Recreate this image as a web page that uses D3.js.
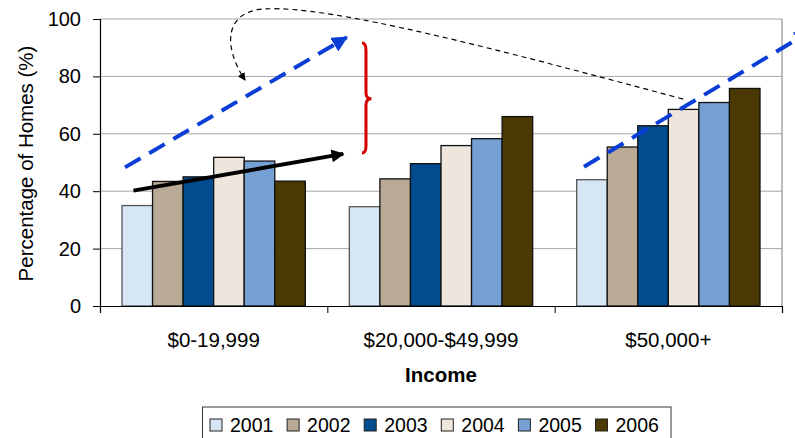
<!DOCTYPE html>
<html>
<head>
<meta charset="utf-8">
<script src="https://cdn.jsdelivr.net/npm/d3@7"></script>
<style>
  body { margin: 0; background: #fff; }
  svg { font-family: "Liberation Sans", Arial, sans-serif; }
</style>
</head>
<body>
<div id="chart"></div>
<script>
'use strict';

// data
var categories = ["$0-19,999", "$20,000-$49,999", "$50,000+"];
var years = ["2001", "2002", "2003", "2004", "2005", "2006"];
var values = {
    "2001": [35.0, 34.6, 44.0],
    "2002": [43.4, 44.3, 55.4],
    "2003": [45.0, 49.6, 62.8],
    "2004": [51.8, 55.9, 68.5],
    "2005": [50.5, 58.3, 70.9],
    "2006": [43.5, 66.0, 75.8]
};
var colors = ["#d6e6f5", "#b8aa94", "#014b8e", "#eee6dc", "#74a0d4", "#4a3902"];
var yTicks = [0, 20, 40, 60, 80, 100];

// annotations in [category units, percent]
var blueArrow1 = [[0.110, 48.3], [1.085, 93.6]];
var blueArrow2 = [[2.129, 48.5], [3.12, 95.5]];
var blackArrow = [[0.147, 40.2], [1.070, 53.0]];
var dashedCurve = [[2.565, 72.1], [1.76, 89.2], [1.012, 104.9], [0.726, 103.5],
                   [0.55, 102.8], [0.537, 90.9], [0.638, 78.7]];
var brace = { body: 1.170, tip: 1.1525, cusp: 1.194, top: 91.6, mid: 72.2, bottom: 53.3 };

var width = 795, height = 438;
var margin = { left: 100, right: 13, top: 19, bottom: 132 };
var plotW = width - margin.left - margin.right;
var plotH = height - margin.top - margin.bottom;

var svg = d3.select("#chart").append("svg")
    .attr("width", width)
    .attr("height", height);

var x0 = d3.scaleBand().domain(categories).range([margin.left, margin.left + plotW]);
var x1 = d3.scaleBand().domain(years).range([0, x0.bandwidth()]).paddingOuter(0.72);
var y = d3.scaleLinear().domain([0, 100]).range([margin.top + plotH, margin.top]);
var u = d3.scaleLinear().domain([0, 3]).range([margin.left, margin.left + plotW]);

// gridlines
svg.append("g").selectAll("line")
    .data(yTicks.filter(d => d > 0))
    .join("line")
    .attr("x1", margin.left).attr("x2", margin.left + plotW)
    .attr("y1", d => y(d)).attr("y2", d => y(d))
    .attr("stroke", "#a6a6a6").attr("stroke-width", 1);

// right border of plot area
svg.append("line")
    .attr("x1", margin.left + plotW).attr("x2", margin.left + plotW)
    .attr("y1", y(100)).attr("y2", y(0))
    .attr("stroke", "#a6a6a6").attr("stroke-width", 1.5);

// bars
var groups = svg.append("g").selectAll("g")
    .data(categories)
    .join("g")
    .attr("transform", d => "translate(" + x0(d) + ",0)");

groups.selectAll("rect")
    .data((c, ci) => years.map((yr, k) => ({ year: yr, value: values[yr][ci], k: k })))
    .join("rect")
    .attr("x", d => x1(d.year))
    .attr("width", x1.bandwidth())
    .attr("y", d => y(d.value))
    .attr("height", d => y(0) - y(d.value))
    .attr("fill", d => colors[d.k])
    .attr("stroke", d => d.k === 0 ? "#555" : "#111")
    .attr("stroke-width", 1.3);

// y axis
var yAxis = svg.append("g")
    .attr("transform", "translate(" + margin.left + ",0)")
    .call(d3.axisLeft(y).tickValues(yTicks).tickSize(7).tickPadding(12));
yAxis.selectAll("text").attr("font-size", 20).attr("fill", "#000")
    .style("font-family", "Liberation Sans, Arial, sans-serif");
yAxis.selectAll("line").attr("stroke", "#000");
yAxis.select(".domain").attr("stroke", "#000").attr("stroke-width", 1.2);

// x axis
var xAxis = svg.append("g")
    .attr("transform", "translate(0," + y(0) + ")")
    .call(d3.axisBottom(u).tickValues([0, 1, 2, 3]).tickSize(7).tickFormat(""));
xAxis.selectAll("line").attr("stroke", "#000");
xAxis.select(".domain").attr("stroke", "#000").attr("stroke-width", 1.2);

svg.append("g").selectAll("text")
    .data(categories)
    .join("text")
    .attr("x", d => x0(d) + x0.bandwidth() / 2)
    .attr("y", 346.5)
    .attr("text-anchor", "middle")
    .attr("font-size", 20.5)
    .text(d => d);

svg.append("text")
    .attr("x", margin.left + plotW / 2)
    .attr("y", 382)
    .attr("text-anchor", "middle")
    .attr("font-size", 20.5)
    .attr("font-weight", "bold")
    .text("Income");

svg.append("text")
    .attr("transform", "translate(33," + (margin.top + plotH / 2 + 1) + ") rotate(-90)")
    .attr("text-anchor", "middle")
    .attr("font-size", 20.5)
    .text("Percentage of Homes (%)");

// legend
var legend = svg.append("g");
legend.append("rect")
    .attr("x", 202.5).attr("y", 407)
    .attr("width", 468.5).attr("height", 40)
    .attr("fill", "#fff").attr("stroke", "#333").attr("stroke-width", 1);

var items = legend.selectAll("g.item")
    .data(years)
    .join("g")
    .attr("class", "item")
    .attr("transform", (d, i) => "translate(" + (210 + i * 77.1) + ",0)");
items.append("rect")
    .attr("x", 0).attr("y", 419)
    .attr("width", 12).attr("height", 12)
    .attr("fill", (d, i) => colors[i])
    .attr("stroke", "#222").attr("stroke-width", 1);
items.append("text")
    .attr("x", 20).attr("y", 431.5)
    .attr("font-size", 19.5)
    .text(d => d);

// annotations
var defs = svg.append("defs");
function marker(id, color, w, h) {
    defs.append("marker")
        .attr("id", id)
        .attr("viewBox", "0 0 10 10")
        .attr("refX", 9).attr("refY", 5)
        .attr("markerUnits", "userSpaceOnUse")
        .attr("markerWidth", w).attr("markerHeight", h)
        .attr("orient", "auto")
        .append("path")
        .attr("d", "M0,0 L10,5 L0,10 Z")
        .attr("fill", color);
}
marker("blueHead", "#0a3ed6", 16, 16);
marker("blackHead", "#000", 15, 13);
marker("smallHead", "#000", 8, 8);

var line = d3.line().x(d => u(d[0])).y(d => y(d[1]));

[blueArrow1, blueArrow2].forEach(function(pts) {
    svg.append("path")
        .attr("d", line(pts))
        .attr("fill", "none")
        .attr("stroke", "#0a3ed6")
        .attr("stroke-width", 4)
        .attr("stroke-dasharray", "18,10")
        .attr("marker-end", "url(#blueHead)");
});

svg.append("path")
    .attr("d", line(blackArrow))
    .attr("fill", "none")
    .attr("stroke", "#000")
    .attr("stroke-width", 4)
    .attr("marker-end", "url(#blackHead)");

var c = dashedCurve.map(d => [u(d[0]), y(d[1])]);
svg.append("path")
    .attr("d", "M" + c[0] + " C" + c[1] + " " + c[2] + " " + c[3] + " C" + c[4] + " " + c[5] + " " + c[6])
    .attr("fill", "none")
    .attr("stroke", "#000")
    .attr("stroke-width", 1.2)
    .attr("stroke-dasharray", "5,4")
    .attr("marker-end", "url(#smallHead)");

var bx = u(brace.body), bt = u(brace.tip), bc = u(brace.cusp);
var yt = y(brace.top), ym = y(brace.mid), yb = y(brace.bottom);
svg.append("path")
    .attr("d", "M" + bt + "," + yt +
        " Q" + bx + "," + yt + " " + bx + "," + (yt + 7) +
        " L" + bx + "," + (ym - 6) +
        " Q" + bx + "," + ym + " " + bc + "," + ym +
        " Q" + bx + "," + ym + " " + bx + "," + (ym + 6) +
        " L" + bx + "," + (yb - 7) +
        " Q" + bx + "," + yb + " " + bt + "," + yb)
    .attr("fill", "none")
    .attr("stroke", "#d40000")
    .attr("stroke-width", 3);
</script>
</body>
</html>
